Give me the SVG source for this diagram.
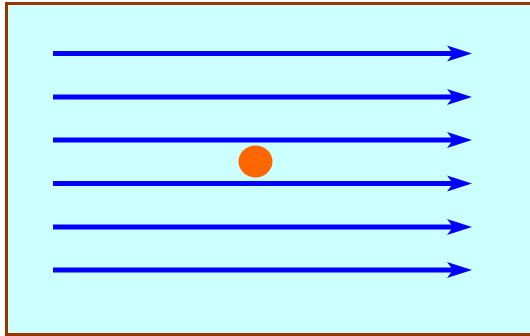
<svg xmlns="http://www.w3.org/2000/svg" width="530" height="336" viewBox="0 0 530 336">
<style>
.flow{stroke:#0000ff;stroke-width:5;fill:none}
.head{fill:#0000ff}
</style>
<defs>
<path id="ah" class="head" d="M0,0 L-25,-8 L-19,0 L-25,8 Z"/>
</defs>
<rect id="frame" x="6.5" y="3.5" width="530" height="331" fill="#ccffff" stroke="#993300" stroke-width="3"/>
<g id="connectors">
<line class="flow" x1="53" y1="53.5" x2="455" y2="53.5"/><use href="#ah" x="472" y="53.5"/>
<line class="flow" x1="53" y1="97" x2="455" y2="97"/><use href="#ah" x="472" y="97"/>
<line class="flow" x1="53" y1="140" x2="455" y2="140"/><use href="#ah" x="472" y="140"/>
<line class="flow" x1="53" y1="183.5" x2="455" y2="183.5"/><use href="#ah" x="472" y="183.5"/>
<line class="flow" x1="53" y1="227" x2="455" y2="227"/><use href="#ah" x="472" y="227"/>
<line class="flow" x1="53" y1="270" x2="455" y2="270"/><use href="#ah" x="472" y="270"/>
</g>
<g id="particle">
<ellipse cx="255.5" cy="161.5" rx="17" ry="16" fill="#ff6600"/>
</g>
</svg>
